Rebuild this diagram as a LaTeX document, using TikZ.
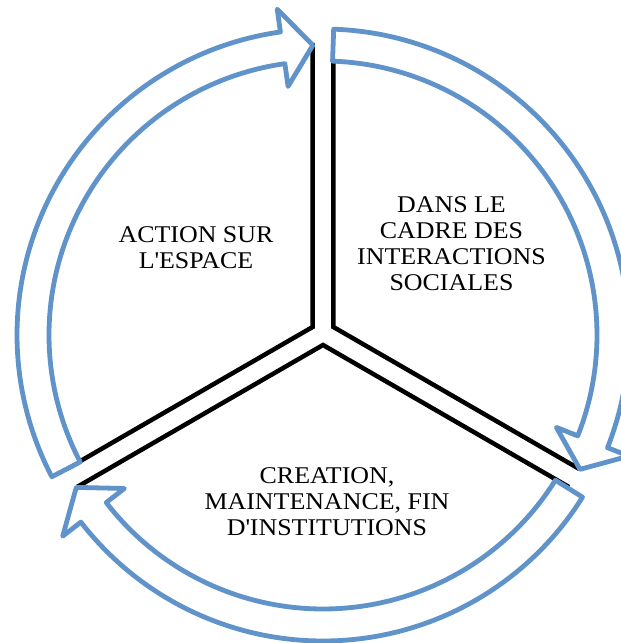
\documentclass[tikz,border=0pt]{standalone}
\usepackage{fontspec}
\setmainfont{Liberation Serif}[FakeStretch=1.08]
\usetikzlibrary{calc}
\definecolor{arrowblue}{RGB}{96,147,202}
\begin{document}
\begin{tikzpicture}[x=1pt,y=1pt,
  wedgeline/.style={line width=4.5pt, line join=miter, draw=black},
  cyclearrow/.style={draw=arrowblue, line width=4.8pt, fill=white, line join=round},
  txtstyle/.style={font=\fontsize{24}{26}\selectfont, align=center, inner sep=0pt}]
\useasboundingbox (0,0) rectangle (621,643);
\clip (0,0) rectangle (621,643);
% centres
\coordinate (Ca) at (323,308);
\coordinate (Cw) at (323,310);
% wedge vertices (exploded pie)
\coordinate (V1) at ($(Cw)+(30:12)$);
\coordinate (V2) at ($(Cw)+(150:12)$);
\coordinate (V3) at ($(Cw)+(270:12)$);
\coordinate (E1a) at ($(V1)+(90:284)$);
\coordinate (E1b) at ($(V1)+(-30:284)$);
\coordinate (E2a) at ($(V2)+(90:284)$);
\coordinate (E2b) at ($(V2)+(210:284)$);
\coordinate (E3a) at ($(V3)+(210:284)$);
\coordinate (E3b) at ($(V3)+(-30:284)$);
\draw[wedgeline] (E1a) -- (V1) -- (E1b);
\draw[wedgeline] (E2a) -- (V2) -- (E2b);
\draw[wedgeline] (E3a) -- (V3) -- (E3b);
% circular arrows
\foreach \a/\t [evaluate=\t as \b using \t+6] in {88/-27.6, -32/-148.3, 207.6/92}{
  \draw[cyclearrow, shift={(Ca)}]
    (\a:306pt) arc[start angle=\a, end angle=\b, radius=306pt]
    -- (\b:329pt) -- (\t:290pt) -- (\b:251pt) -- (\b:274pt)
    arc[start angle=\b, end angle=\a, radius=274pt] -- cycle;
}
% texts
\node[txtstyle] (tleft) at (196,395) {ACTION SUR\\L\textquotesingle ESPACE};
\node[txtstyle] (tright) at (451.5,399) {DANS LE\\CADRE DES\\INTERACTIONS\\SOCIALES};
\node[txtstyle] (tbottom) at (327,141.3) {CREATION,\\MAINTENANCE, FIN\\D\textquotesingle INSTITUTIONS};
\end{tikzpicture}
\end{document}
